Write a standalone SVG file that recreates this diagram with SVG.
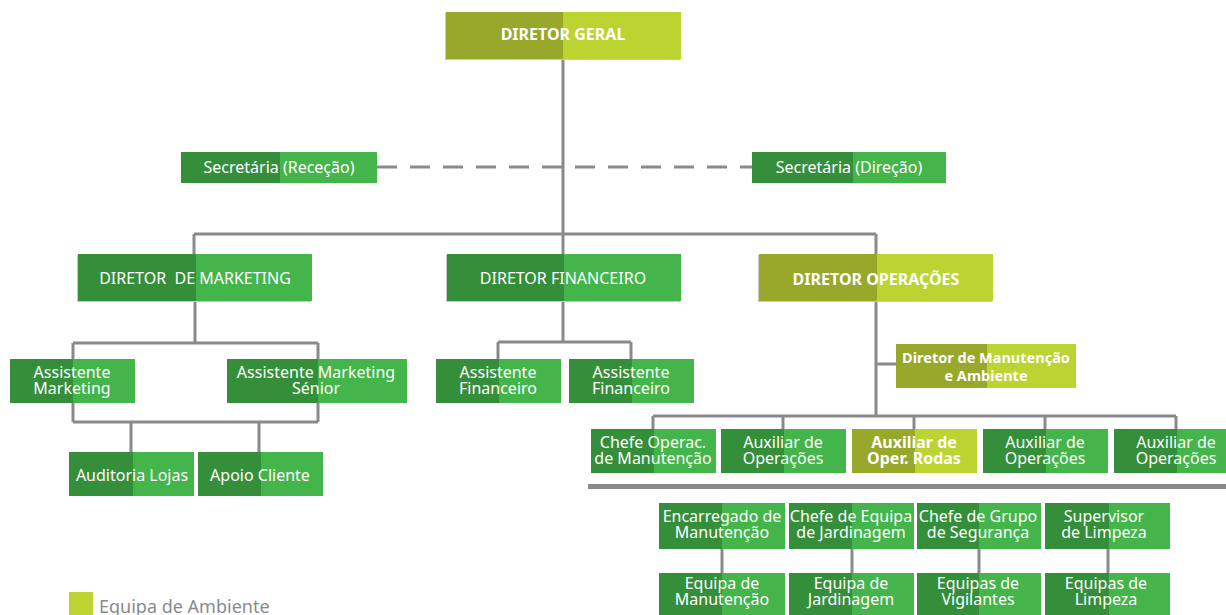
<svg xmlns="http://www.w3.org/2000/svg" width="1226" height="615" viewBox="0 0 1226 615">
<style>
.dk{fill:#358F3A}.lt{fill:#43B54A}.od{fill:#98A82B}.ol{fill:#BBD431}
.sh{fill:#C9C9C9}
.ln{stroke:#8A8A8E;stroke-width:3;fill:none}
.ds{stroke:#8A8A8E;stroke-width:3;fill:none;stroke-dasharray:20 13}
text{font-family:"Noto Sans","Liberation Sans",sans-serif;font-size:16px;fill:#FFFFFF;text-anchor:middle;white-space:pre}
.b{font-weight:bold}
.sm{font-size:14.5px}
.lg{fill:#8A8A8E;text-anchor:start;font-size:18px}
</style>
<g id="connectors">
<path class="ln" d="M563 59V234M194 234H876M194 234V254M563 234V254M876 234V254"/>
<path class="ds" d="M377 167H752"/>
<path class="ln" d="M195 301V343M73 343H318M73 343V422M318 343V422M73 422H318M131 422V452M259 422V452"/>
<path class="ln" d="M563 301V342M498 342H631M498 342V359M631 342V359"/>
<path class="ln" d="M876 301V416M876 364H896M653 416H1176M653 416V429M783 416V429M914 416V429M1045 416V429M1176 416V429"/>
<rect x="588" y="484" width="638" height="5" fill="#8A8A8E"/>
<path class="ln" d="M722 549V573M852 549V573M979 549V573M1108 549V573"/>
</g>
<g id="n-geral"><rect class="sh" x="445" y="13" width="235" height="47"/><rect class="od" x="446" y="12" width="117" height="47"/><rect class="ol" x="563" y="12" width="118" height="47"/><text class="b" x="563" y="40">DIRETOR GERAL</text></g>
<g id="n-sec-rec"><rect class="dk" x="181" y="152" width="99" height="31"/><rect class="lt" x="280" y="152" width="97" height="31"/><text x="279" y="173">Secretária (Receção)</text></g>
<g id="n-sec-dir"><rect class="dk" x="752" y="152" width="101" height="31"/><rect class="lt" x="853" y="152" width="93" height="31"/><text x="849" y="173">Secretária (Direção)</text></g>
<g id="n-marketing"><rect class="sh" x="77" y="255" width="234" height="47"/><rect class="dk" x="78" y="254" width="118" height="47"/><rect class="lt" x="196" y="254" width="116" height="47"/><text x="195" y="284">DIRETOR  DE MARKETING</text></g>
<g id="n-financeiro"><rect class="sh" x="446" y="255" width="234" height="47"/><rect class="dk" x="447" y="254" width="117" height="47"/><rect class="lt" x="564" y="254" width="117" height="47"/><text x="563" y="284">DIRETOR FINANCEIRO</text></g>
<g id="n-operacoes"><rect class="sh" x="758" y="255" width="234" height="47"/><rect class="od" x="759" y="254" width="118" height="47"/><rect class="ol" x="877" y="254" width="116" height="47"/><text class="b" x="876" y="285">DIRETOR OPERAÇÕES</text></g>
<g id="n-ass-mkt"><rect class="dk" x="10" y="359" width="63" height="44"/><rect class="lt" x="73" y="359" width="62" height="44"/><text x="72" y="378">Assistente<tspan x="72" dy="16">Marketing</tspan></text></g>
<g id="n-ass-mkt-sen"><rect class="dk" x="227" y="359" width="91" height="44"/><rect class="lt" x="318" y="359" width="89" height="44"/><text x="316" y="378">Assistente Marketing<tspan x="316" dy="16">Sénior</tspan></text></g>
<g id="n-auditoria"><rect class="dk" x="69" y="452" width="64" height="44"/><rect class="lt" x="133" y="452" width="61" height="44"/><text x="132" y="481">Auditoria Lojas</text></g>
<g id="n-apoio"><rect class="dk" x="198" y="452" width="63" height="44"/><rect class="lt" x="261" y="452" width="62" height="44"/><text x="260" y="481">Apoio Cliente</text></g>
<g id="n-ass-fin1"><rect class="dk" x="436" y="359" width="63" height="44"/><rect class="lt" x="499" y="359" width="62" height="44"/><text x="498" y="378">Assistente<tspan x="498" dy="16">Financeiro</tspan></text></g>
<g id="n-ass-fin2"><rect class="dk" x="569" y="359" width="63" height="44"/><rect class="lt" x="632" y="359" width="62" height="44"/><text x="631" y="378">Assistente<tspan x="631" dy="16">Financeiro</tspan></text></g>
<g id="n-dir-manut"><rect class="od" x="896" y="344" width="91" height="44"/><rect class="ol" x="987" y="344" width="89" height="44"/><text class="b sm" x="986" y="363">Diretor de Manutenção<tspan x="986" dy="18">e Ambiente</tspan></text></g>
<g id="n-chefe-op"><rect class="dk" x="591" y="429" width="63" height="44"/><rect class="lt" x="654" y="429" width="62" height="44"/><text x="653" y="448">Chefe Operac.<tspan x="653" dy="16">de Manutenção</tspan></text></g>
<g id="n-aux1"><rect class="dk" x="721" y="429" width="63" height="44"/><rect class="lt" x="784" y="429" width="62" height="44"/><text x="783" y="448">Auxiliar de<tspan x="783" dy="16">Operações</tspan></text></g>
<g id="n-aux-rodas"><rect class="od" x="852" y="429" width="63" height="44"/><rect class="ol" x="915" y="429" width="62" height="44"/><text class="b" x="914" y="448">Auxiliar de<tspan x="914" dy="16">Oper. Rodas</tspan></text></g>
<g id="n-aux2"><rect class="dk" x="983" y="429" width="63" height="44"/><rect class="lt" x="1046" y="429" width="62" height="44"/><text x="1045" y="448">Auxiliar de<tspan x="1045" dy="16">Operações</tspan></text></g>
<g id="n-aux3"><rect class="dk" x="1114" y="429" width="63" height="44"/><rect class="lt" x="1177" y="429" width="62" height="44"/><text x="1176" y="448">Auxiliar de<tspan x="1176" dy="16">Operações</tspan></text></g>
<g id="n-encarregado"><rect class="dk" x="659" y="503" width="63" height="46"/><rect class="lt" x="722" y="503" width="63" height="46"/><text x="722" y="522">Encarregado de<tspan x="722" dy="16">Manutenção</tspan></text></g>
<g id="n-chefe-jard"><rect class="dk" x="789" y="503" width="63" height="46"/><rect class="lt" x="852" y="503" width="62" height="46"/><text x="851" y="522">Chefe de Equipa<tspan x="851" dy="16">de Jardinagem</tspan></text></g>
<g id="n-chefe-seg"><rect class="dk" x="917" y="503" width="62" height="46"/><rect class="lt" x="979" y="503" width="62" height="46"/><text x="978" y="522">Chefe de Grupo<tspan x="978" dy="16">de Segurança</tspan></text></g>
<g id="n-supervisor"><rect class="dk" x="1045" y="503" width="64" height="46"/><rect class="lt" x="1109" y="503" width="61" height="46"/><text x="1104" y="522">Supervisor<tspan x="1104" dy="16">de Limpeza</tspan></text></g>
<g id="n-eq-manut"><rect class="dk" x="659" y="573" width="63" height="45"/><rect class="lt" x="722" y="573" width="63" height="45"/><text x="722" y="589">Equipa de<tspan x="722" dy="16">Manutenção</tspan></text></g>
<g id="n-eq-jard"><rect class="dk" x="789" y="573" width="63" height="45"/><rect class="lt" x="852" y="573" width="62" height="45"/><text x="851" y="589">Equipa de<tspan x="851" dy="16">Jardinagem</tspan></text></g>
<g id="n-eq-vig"><rect class="dk" x="917" y="573" width="62" height="45"/><rect class="lt" x="979" y="573" width="62" height="45"/><text x="978" y="589">Equipas de<tspan x="978" dy="16">Vigilantes</tspan></text></g>
<g id="n-eq-limp"><rect class="dk" x="1045" y="573" width="64" height="45"/><rect class="lt" x="1109" y="573" width="61" height="45"/><text x="1106" y="589">Equipas de<tspan x="1106" dy="16">Limpeza</tspan></text></g>
<g id="legend"><rect class="ol" x="69" y="592" width="24" height="23"/><text class="lg" x="99" y="613">Equipa de Ambiente</text></g>
</svg>
